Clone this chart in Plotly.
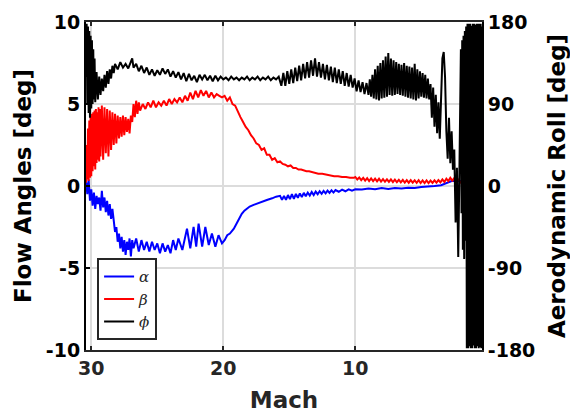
import plotly.graph_objects as go

# ---------------- data ----------------
mach_alpha = [30.40, 30.30, 30.20, 30.10, 30.00, 29.90, 29.80, 29.70, 29.60, 29.50, 29.40, 29.30,
              29.20, 29.10, 29.00, 28.90, 28.80, 28.70, 28.60, 28.50, 28.40, 28.30,
              28.20, 28.10, 28.00, 27.90, 27.80, 27.70, 27.60, 27.50, 27.40, 27.30, 27.20, 27.10,
              27.00, 26.90, 26.80, 26.60, 26.40, 26.20, 26.00, 25.80, 25.60, 25.40, 25.20, 25.00,
              24.80, 24.60, 24.40, 24.20, 24.00, 23.80, 23.60, 23.40, 23.10, 22.75, 22.50, 22.25,
              22.05, 21.87, 21.60, 21.36, 21.10, 20.86, 20.60, 20.36, 20.10, 19.90, 19.70, 19.50,
              19.20, 19.00, 18.80, 18.60, 18.40, 18.20, 18.00, 17.70, 17.40, 17.10, 16.70, 16.30,
              16.00, 15.70, 15.55, 15.40, 15.25, 15.10, 14.95, 14.80, 14.65, 14.50, 14.35, 14.20,
              14.05, 13.90, 13.75, 13.60, 13.45, 13.30, 13.15, 13.00, 12.85, 12.70, 12.55, 12.40,
              12.25, 12.10, 11.95, 11.80, 11.65, 11.50, 11.25, 11.00, 10.75, 10.50, 10.25, 10.00,
              9.50, 9.00, 8.50, 8.00, 7.50, 7.00, 6.50, 6.00, 5.50, 5.00, 4.50, 4.00, 3.50, 3.00,
              2.70, 2.00, 1.00, 0.60, 0.40]
alpha = [0.3, -0.5, 0.4, -0.9, -0.2, -1.2, -0.4, -1.4, -0.6, -1.1, -0.7, -1.5,
         -0.3, -1.3, -0.7, -1.6, -0.9, -1.8, -1.1, -2.0, -1.4, -2.2,
         -2.8, -2.5, -3.4, -2.9, -3.8, -3.1, -4.0, -3.3, -4.2, -3.4, -3.9, -3.2,
         -4.3, -3.3, -3.8, -3.2, -4.0, -3.3, -3.9, -3.4, -4.0, -3.4, -3.9, -3.5,
         -4.1, -3.5, -4.0, -3.6, -4.1, -3.3, -3.9, -3.2, -3.9, -2.6, -3.8, -2.5,
         -3.7, -2.3, -3.7, -2.5, -3.6, -2.9, -3.7, -3.0, -3.5, -3.3, -3.0, -2.9,
         -2.6, -2.3, -2.0, -1.7, -1.5, -1.35, -1.25, -1.15, -1.05, -0.95, -0.85, -0.75,
         -0.65, -0.6, -0.85, -0.6, -0.85, -0.55, -0.8, -0.5, -0.78, -0.48, -0.72, -0.45,
         -0.68, -0.42, -0.62, -0.4, -0.58, -0.36, -0.55, -0.34, -0.5, -0.32, -0.48, -0.3,
         -0.45, -0.28, -0.42, -0.26, -0.4, -0.25, -0.35, -0.22, -0.32, -0.2, -0.28, -0.2,
         -0.22, -0.15, -0.2, -0.13, -0.18, -0.12, -0.15, -0.1, -0.12, -0.06, -0.05, 0.0, 0.05, 0.2,
         0.3, 0.3, 1.0, 1.8, 2.0]

mach_beta = [30.40, 30.35, 30.30, 30.25, 30.20, 30.15, 30.10, 30.05, 30.00, 29.95, 29.90, 29.85,
             29.80, 29.75, 29.70, 29.65, 29.60, 29.55, 29.50, 29.45, 29.40, 29.35, 29.30,
             29.20, 29.10, 29.00, 28.90, 28.80, 28.70, 28.60, 28.50, 28.40, 28.30, 28.20, 28.10,
             28.00, 27.90, 27.80, 27.70, 27.60, 27.50, 27.40, 27.30, 27.20, 27.10, 27.00,
             26.90, 26.80, 26.70, 26.60, 26.50, 26.40, 26.30, 26.10, 25.90, 25.70, 25.50, 25.30,
             25.10, 24.90, 24.70, 24.50, 24.30, 24.10, 23.90, 23.70, 23.50, 23.30, 23.10, 22.90,
             22.70, 22.50, 22.30, 22.10, 21.90, 21.70, 21.50, 21.30, 21.10, 20.90, 20.70, 20.50,
             20.30, 20.10, 19.90, 19.70, 19.50, 19.30, 19.10, 18.90, 18.70, 18.50, 18.30, 18.10,
             17.90, 17.70, 17.50, 17.30, 17.10, 16.90, 16.70, 16.50, 16.30, 16.10, 15.90, 15.70,
             15.50, 15.30, 15.10, 14.90, 14.70, 14.50, 14.30, 14.10, 13.90, 13.70, 13.50, 13.30,
             13.10, 12.80, 12.50, 12.20, 11.90, 11.60, 11.30, 11.00, 10.70, 10.40, 10.10,
             10.00, 9.85, 9.70, 9.55, 9.40, 9.25, 9.10, 8.95, 8.80, 8.65, 8.50, 8.35, 8.20,
             8.05, 7.90, 7.75, 7.60, 7.45, 7.30, 7.15, 7.00, 6.85, 6.70, 6.55, 6.40, 6.25,
             6.10, 5.95, 5.80, 5.65, 5.50, 5.35, 5.20, 5.05, 4.90, 4.75, 4.60, 4.45, 4.30,
             4.15, 4.00, 3.85, 3.70, 3.55, 3.40, 3.25, 3.10, 2.95, 2.80, 2.65, 2.50, 2.35,
             2.20, 2.00, 1.00, 0.60, 0.40]
beta = [0.2, 2.5, 0.4, 3.5, 0.3, 4.0, 0.5, 4.3, 0.6, 4.4, 0.9, 4.5,
        1.2, 4.6, 1.0, 4.7, 1.4, 4.5, 1.6, 4.8, 1.5, 4.7, 1.8,
        4.9, 1.6, 4.8, 2.0, 4.7, 1.8, 4.6, 2.2, 4.5, 2.5, 4.4, 2.6,
        4.3, 2.9, 4.2, 3.0, 4.3, 3.1, 4.2, 3.3, 4.1, 3.2, 4.3,
        3.9, 5.0, 4.2, 5.2, 4.4, 5.1, 4.6, 5.0, 4.7, 5.1, 4.8, 5.2,
        4.8, 5.1, 4.9, 5.2, 4.9, 5.3, 5.0, 5.3, 5.1, 5.4, 5.1, 5.5,
        5.2, 5.7, 5.3, 5.8, 5.4, 5.85, 5.5, 5.8, 5.4, 5.7, 5.4, 5.6,
        5.5, 5.4, 5.5, 5.2, 5.4, 5.0, 4.9, 4.5, 4.2, 3.9, 3.6, 3.4,
        3.1, 2.9, 2.6, 2.5, 2.2, 2.3, 1.9, 1.9, 1.6, 1.7, 1.45, 1.5,
        1.35, 1.3, 1.2, 1.25, 1.1, 1.1, 1.0, 1.0, 0.95, 0.9, 0.9, 0.85,
        0.8, 0.75, 0.75, 0.7, 0.65, 0.6, 0.6, 0.55, 0.55, 0.5, 0.5,
        0.55, 0.4, 0.52, 0.36, 0.5, 0.33, 0.48, 0.3, 0.46, 0.3, 0.45, 0.28, 0.44,
        0.27, 0.42, 0.26, 0.41, 0.25, 0.4, 0.24, 0.39, 0.23, 0.38, 0.22, 0.37, 0.21,
        0.36, 0.2, 0.36, 0.2, 0.35, 0.19, 0.35, 0.18, 0.34, 0.18, 0.34, 0.18, 0.33,
        0.19, 0.34, 0.2, 0.36, 0.22, 0.4, 0.25, 0.45, 0.3, 0.5, 0.33, 0.48, 0.35,
        0.4, 0.2, -0.8, -2.0, -2.3]

mach_phi = [30.40, 30.35, 30.30, 30.25, 30.20, 30.15, 30.10, 30.05, 30.00, 29.95, 29.90, 29.85,
            29.80, 29.75, 29.70, 29.60, 29.50, 29.40, 29.30, 29.20, 29.10, 29.00, 28.90, 28.80,
            28.70, 28.60, 28.50, 28.40, 28.30, 28.20, 28.00, 27.80, 27.60, 27.40, 27.20, 27.00,
            26.90, 26.80, 26.60, 26.40, 26.20, 26.00, 25.80, 25.60, 25.40, 25.20, 25.00, 24.80,
            24.60, 24.40, 24.20, 24.00, 23.80, 23.60, 23.40, 23.20, 23.00, 22.80, 22.60, 22.40,
            22.20, 22.00, 21.80, 21.60, 21.40, 21.20, 21.00, 20.80, 20.60, 20.40, 20.20, 20.00,
            19.80, 19.60, 19.40, 19.20, 19.00, 18.80, 18.60, 18.40, 18.20, 18.00, 17.80, 17.60,
            17.40, 17.20, 17.00, 16.80, 16.60, 16.40, 16.20, 16.00, 15.80,
            15.60, 15.45, 15.30, 15.15, 15.00, 14.85, 14.70, 14.55, 14.40, 14.25, 14.10, 13.95,
            13.80, 13.65, 13.50, 13.35, 13.20, 13.05, 12.90, 12.75, 12.60, 12.45, 12.30, 12.15,
            12.00, 11.85, 11.70, 11.55, 11.40, 11.25, 11.10, 10.95, 10.80, 10.65, 10.50, 10.35,
            10.20, 10.05, 9.90, 9.75, 9.60, 9.45, 9.30, 9.15,
            9.00, 8.90, 8.80, 8.70, 8.60, 8.50, 8.40, 8.30, 8.20, 8.10, 8.00, 7.90, 7.80, 7.70,
            7.60, 7.50, 7.40, 7.30, 7.20, 7.10, 7.00, 6.90, 6.80, 6.70, 6.60, 6.50, 6.40, 6.30,
            6.20, 6.10, 6.00, 5.90, 5.80, 5.70, 5.60, 5.50, 5.40, 5.30, 5.20, 5.10, 5.00, 4.90,
            4.80, 4.70, 4.60, 4.50,
            4.40, 4.30, 4.20, 4.10, 4.00, 3.90, 3.80, 3.70, 3.60, 3.50, 3.40, 3.30, 3.20, 3.10,
            3.00, 2.90, 2.80, 2.70, 2.60, 2.50, 2.40, 2.30, 2.20, 2.10,
            2.00, 1.95, 1.90, 1.85, 1.80, 1.75, 1.70, 1.65, 1.60, 1.55, 1.50, 1.45, 1.40, 1.35,
            1.30, 1.25, 1.20, 1.15, 1.10, 1.05, 1.00, 0.95, 0.90, 0.85, 0.80, 0.75, 0.70, 0.65,
            0.60, 0.55, 0.50, 0.45, 0.40]
phi = [120, 178, 90, 175, 80, 170, 75, 165, 85, 160, 90, 150,
       95, 140, 92, 125, 95, 120, 100, 118, 104, 122, 108, 126,
       112, 128, 118, 132, 124, 134, 128, 136, 130, 134, 129, 136,
       140, 130, 134, 126, 132, 124, 130, 122, 128, 121, 127, 122,
       129, 123, 128, 120, 126, 119, 125, 117, 124, 115, 123, 116,
       121, 114, 122, 117, 122, 116, 121, 115, 121, 116, 120, 117,
       119, 116, 120, 117, 119, 116, 119, 117, 120, 116, 119, 117,
       120, 116, 119, 117, 120, 116, 119, 117, 120,
       110, 124, 110, 126, 112, 128, 113, 130, 115, 132, 116, 134,
       118, 136, 119, 138, 121, 140, 120, 136, 119, 134, 117, 133,
       116, 131, 114, 130, 113, 128, 112, 126, 110, 124, 109, 122,
       108, 118, 104, 116, 103, 114, 101, 113,
       100, 117, 98, 122, 96, 128, 95, 132, 94, 135, 96, 138, 97, 142,
       98, 146, 100, 140, 99, 138, 100, 136, 101, 134, 100, 133, 99, 135,
       98, 132, 97, 131, 96, 130, 95, 134, 94, 128, 96, 126, 98, 124,
       97, 122, 96, 118,
       95, 112, 75, 108, 65, 100, 58, 92, 52, 110, 140, 147, 120, 60,
       30, 75, 25, 60, 18, 40, -40, 20, -78, 30,
       150, -30, 160, -70, 165, -80, 170, -60, 175, -178, 178, -178, 178, -176,
       178, -178, 176, -178, 178, -175, 178, -178, 177, -178, 178, -176, 178, -178,
       178, -177, 178, -178, 175]

x_ticks = [30, 20, 10]
y_left_ticks = [-10, -5, 0, 5, 10]
y_right_ticks = [-180, -90, 0, 90, 180]
legend_names = ["α", "β", "ϕ"]

# ---------------- figure ----------------
fig = go.Figure()
fig.add_trace(go.Scatter(x=mach_alpha, y=alpha, mode="lines", name="<i>%s</i>" % legend_names[0],
                         line=dict(color="#0000ff", width=2), yaxis="y"))
fig.add_trace(go.Scatter(x=mach_beta, y=beta, mode="lines", name="<i>%s</i>" % legend_names[1],
                         line=dict(color="#ff0000", width=2), yaxis="y"))
fig.add_trace(go.Scatter(x=mach_phi, y=phi, mode="lines", name="<i>%s</i>" % legend_names[2],
                         line=dict(color="#000000", width=2), yaxis="y2"))

tick_font = dict(family="DejaVu Sans", size=19, color="#000000", weight="bold")

fig.update_layout(
    width=570, height=413,
    margin=dict(l=86, r=88, t=22, b=63, autoexpand=False),
    paper_bgcolor="white", plot_bgcolor="white",
    showlegend=True,
    legend=dict(x=0.028, y=0.03, xanchor="left", yanchor="bottom",
                bgcolor="white", bordercolor="#262626", borderwidth=2,
                font=dict(family="DejaVu Serif", size=15, color="#262626"),
                tracegroupgap=0, itemwidth=30),
    xaxis=dict(range=[30.4, 0.4], tickvals=x_ticks, ticktext=[str(v) for v in x_ticks],
               automargin=False,
               showgrid=True, gridcolor="#dcdcdc", gridwidth=2, zeroline=False,
               showline=True, linecolor="#262626", linewidth=2, mirror="ticks",
               ticks="inside", ticklen=4, tickwidth=2, tickcolor="#262626",
               tickfont=dict(family="DejaVu Sans", size=19, color="#262626", weight="bold"),
               title=dict(text="Mach", standoff=14,
                          font=dict(family="DejaVu Sans", size=23, color="#262626", weight="bold"))),
    yaxis=dict(range=[-10, 10], tickvals=y_left_ticks, ticktext=[str(v) for v in y_left_ticks],
               automargin=False,
               showgrid=True, gridcolor="#dcdcdc", gridwidth=2, zeroline=False,
               showline=True, linecolor="#000000", linewidth=2,
               ticks="inside", ticklen=4, tickwidth=2, tickcolor="#000000",
               tickfont=tick_font,
               title=dict(text="Flow Angles [deg]", standoff=8,
                          font=dict(family="DejaVu Sans", size=23, color="#000000", weight="bold"))),
    yaxis2=dict(range=[-180, 180], tickvals=y_right_ticks, ticktext=[str(v) for v in y_right_ticks],
                automargin=False,
                overlaying="y", side="right", showgrid=False, zeroline=False,
                showline=True, linecolor="#000000", linewidth=2,
                ticks="inside", ticklen=4, tickwidth=2, tickcolor="#000000",
                tickfont=tick_font,
                title=dict(text="Aerodynamic Roll [deg]", standoff=23,
                           font=dict(family="DejaVu Sans", size=23, color="#000000", weight="bold"))),
)

fig.write_html("out.html")
